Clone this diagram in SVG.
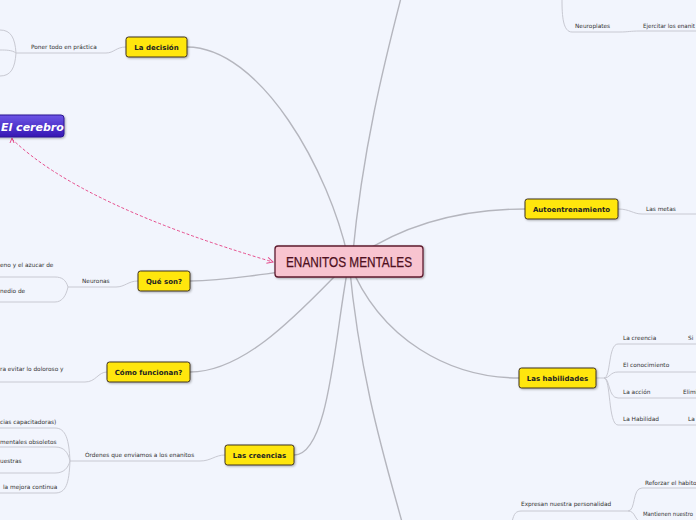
<svg xmlns="http://www.w3.org/2000/svg" width="696" height="520" viewBox="0 0 696 520">
<style>
.bg{fill:#f2f5fd}
.main{fill:none;stroke:#b5b6be;stroke-width:1.4}
.sub{fill:none;stroke:#c8c9d2;stroke-width:1}
.t{font-family:"DejaVu Sans",Verdana,sans-serif;font-size:5.8px;fill:#333}
.topic rect{fill:#ffe60f;stroke:#3e3220;stroke-width:1}
.topic text{font-family:"DejaVu Sans",Verdana,sans-serif;font-size:7px;font-weight:bold;fill:#222;text-anchor:middle}
.rel{fill:none;stroke:#e64c8c;stroke-width:1;stroke-dasharray:3,2}
</style>
<defs>
<linearGradient id="pg" x1="0" y1="0" x2="0" y2="1">
<stop offset="0" stop-color="#6d55e6"/>
<stop offset="1" stop-color="#3618b4"/>
</linearGradient>
<marker id="arr" markerWidth="8" markerHeight="8" refX="7" refY="4" orient="auto" markerUnits="userSpaceOnUse">
<path d="M1,1 L7,4 L1,7" fill="none" stroke="#e64c8c" stroke-width="1"/>
</marker>
<filter id="sh" x="-10%" y="-20%" width="130%" height="160%">
<feDropShadow dx="1" dy="1" stdDeviation="0.8" flood-color="#000" flood-opacity="0.3"/>
</filter>
</defs>
<rect class="bg" x="0" y="0" width="696" height="520"/>

<g id="connectors">
<path class="main" d="M349,262 C330,170 260,47 187,47"/>
<path class="main" d="M352,262 C362,150 385,60 401,-2"/>
<path class="main" d="M349,262 C400,225 460,209 525,209"/>
<path class="main" d="M349,262 C280,272 230,280 190,281"/>
<path class="main" d="M349,262 C310,300 250,372 190,372"/>
<path class="main" d="M349,262 C335,330 330,455 294,455"/>
<path class="main" d="M349,262 C360,380 385,460 402,522"/>
<path class="main" d="M349,262 C380,340 450,378 519,378"/>

<path class="sub" d="M126,47 C116,47 114,53 106,53 L16,53"/>
<path class="sub" d="M16,53 C15,38 11,30 0,30"/>
<path class="sub" d="M16,53 C12,50 6,50 0,50"/>
<path class="sub" d="M16,53 C15,68 11,76 0,76"/>

<path class="sub" d="M138,281 C128,281 125,287 116,287 L68,287"/>
<path class="sub" d="M68,287 C66,280 62,277 55,277 L0,277"/>
<path class="sub" d="M68,287 C66,296 62,302 55,302 L0,302"/>

<path class="sub" d="M107,372 C98,372 96,382 85,382 L0,382"/>

<path class="sub" d="M225,455 C215,455 211,461 200,461 L70,461"/>
<path class="sub" d="M70,461 C69,440 66,428 55,428 L0,428"/>
<path class="sub" d="M70,461 C68,452 64,447 55,447 L0,447"/>
<path class="sub" d="M70,461 C68,468 64,473 55,473 L0,473"/>
<path class="sub" d="M70,461 C69,484 66,493 55,493 L0,493"/>

<path class="sub" d="M618,209 C630,209 633,214 642,214 L696,214"/>

<path class="sub" d="M596,378 L604,378"/>
<path class="sub" d="M604,378 C611,378 608,344 618,344 L696,344"/>
<path class="sub" d="M604,378 C610,378 610,372 618,372 L696,372"/>
<path class="sub" d="M604,378 C610,378 608,398 618,398 L696,398"/>
<path class="sub" d="M604,378 C611,378 608,425 618,425 L696,425"/>

<path class="sub" d="M562,0 C562,16 563,32 572,32 L620,32 C628,32 630,31 640,31 L696,31"/>

<path class="sub" d="M512,522 C514,513 516,511 522,511 L628,511"/>
<path class="sub" d="M628,511 C636,511 632,488 642,488 L696,488"/>
<path class="sub" d="M628,511 C636,511 634,521 642,522"/>

<path class="rel" d="M12,139 Q80,205 273,262" marker-end="url(#arr)"/>
<path d="M10,143 L12,138 L14,143" fill="none" stroke="#e64c8c" stroke-width="1"/>
</g>

<g id="labels">
<text class="t" x="31" y="49">Poner todo en práctica</text>
<text class="t" x="0" y="267">eno y el azucar de</text>
<text class="t" x="82" y="283">Neuronas</text>
<text class="t" x="0" y="293">nedio de</text>
<text class="t" x="0" y="371">ra evitar lo doloroso y</text>
<text class="t" x="0" y="424">cias capacitadoras)</text>
<text class="t" x="0" y="444">mentales obsoletos</text>
<text class="t" x="85" y="457">Órdenes que enviamos a los enanitos</text>
<text class="t" x="0" y="463">uestras</text>
<text class="t" x="3" y="489">la mejora continua</text>
<text class="t" x="575" y="28">Neuroplates</text>
<text class="t" x="643" y="28" textLength="52" lengthAdjust="spacingAndGlyphs">Ejercitar los enanit</text>
<text class="t" x="646" y="211">Las metas</text>
<text class="t" x="623" y="340">La creencia</text>
<text class="t" x="688" y="340">Si</text>
<text class="t" x="623" y="367">El conocimiento</text>
<text class="t" x="623" y="394">La acción</text>
<text class="t" x="683" y="394">Elimi</text>
<text class="t" x="623" y="421">La Habilidad</text>
<text class="t" x="688" y="421">La</text>
<text class="t" x="645" y="485">Reforzar el habito</text>
<text class="t" x="521" y="506">Expresan nuestra personalidad</text>
<text class="t" x="643" y="516" textLength="50" lengthAdjust="spacingAndGlyphs">Mantienen nuestro</text>
</g>

<g id="el-cerebro">
<rect x="-6" y="115" width="70" height="22" rx="3" fill="url(#pg)" stroke="#2b1592" stroke-width="1" filter="url(#sh)"/>
<text x="1" y="130.5" font-family="'DejaVu Sans',Verdana,sans-serif" font-size="11" font-weight="bold" font-style="italic" fill="#fff">El cerebro</text>
</g>

<g id="center">
<rect x="275" y="246" width="148" height="31" rx="3" fill="#f8c4d0" stroke="#5e1a2e" stroke-width="1.3" filter="url(#sh)"/>
<text x="349" y="266.5" font-family="'Liberation Sans',Arial,sans-serif" font-size="14" fill="#4e1020" stroke="#4e1020" stroke-width="0.25" text-anchor="middle" textLength="126" lengthAdjust="spacingAndGlyphs">ENANITOS MENTALES</text>
</g>

<g id="la-decision" class="topic">
<rect x="126" y="37" width="61" height="20" rx="2.5" filter="url(#sh)"/>
<text x="156.5" y="49.5">La decisión</text>
</g>
<g id="que-son" class="topic">
<rect x="138" y="271" width="52" height="20" rx="2.5" filter="url(#sh)"/>
<text x="164" y="283.5">Qué son?</text>
</g>
<g id="como-funcionan" class="topic">
<rect x="107" y="362" width="83" height="20" rx="2.5" filter="url(#sh)"/>
<text x="148.5" y="374.5">Cómo funcionan?</text>
</g>
<g id="las-creencias" class="topic">
<rect x="225" y="445" width="69" height="20" rx="2.5" filter="url(#sh)"/>
<text x="259.5" y="457.5">Las creencias</text>
</g>
<g id="autoentrenamiento" class="topic">
<rect x="525" y="199" width="93" height="20" rx="2.5" filter="url(#sh)"/>
<text x="571.5" y="211.5">Autoentrenamiento</text>
</g>
<g id="las-habilidades" class="topic">
<rect x="519" y="368" width="77" height="20" rx="2.5" filter="url(#sh)"/>
<text x="557.5" y="380.5">Las habilidades</text>
</g>
</svg>
